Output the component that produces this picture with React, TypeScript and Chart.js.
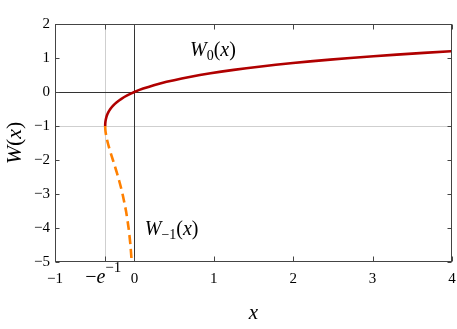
import React, { useEffect, useRef } from 'react';
import { Chart, registerables } from 'chart.js';

Chart.register(...registerables);

// Principal branch W0(x): sampled (x, W) pairs
const W0_X = [-0.36788, -0.36771, -0.36719, -0.36591, -0.3633, -0.35946, -0.34761, -0.32929, -0.30327, -0.26813, -0.22225, -0.16375, -0.09048, 0, 0.11052, 0.24428, 0.40496, 0.59673, 0.82436, 1.09327, 1.40963, 1.78043, 2.21364, 2.71828, 3.30458, 3.98414, 4.0];
const W0_Y = [-1, -0.97, -0.94, -0.9, -0.85, -0.8, -0.7, -0.6, -0.5, -0.4, -0.3, -0.2, -0.1, 0, 0.1, 0.2, 0.3, 0.4, 0.5, 0.6, 0.7, 0.8, 0.9, 1.0, 1.1, 1.2, 1.2022];

// Lower branch W-1(x)
const WM1_X = [-0.36788, -0.36772, -0.36725, -0.36616, -0.36413, -0.36143, -0.35429, -0.34524, -0.3347, -0.32304, -0.29754, -0.27067, -0.23715, -0.20521, -0.17581, -0.14936, -0.10569, -0.07326, -0.04999, -0.03369];
const WM1_Y = [-1, -1.03, -1.06, -1.1, -1.15, -1.2, -1.3, -1.4, -1.5, -1.6, -1.8, -2.0, -2.25, -2.5, -2.75, -3.0, -3.5, -4.0, -4.5, -5.0];

const X_TICKS = [-1, -0.36788, 0, 1, 2, 3, 4];
const Y_TICKS = [-5, -4, -3, -2, -1, 0, 1, 2];
const REF_X = -0.36788;
const REF_Y = -1;

const SERIF = '"Liberation Serif", "DejaVu Serif", serif';

type Run = { text: string; font: string; dy?: number };

function drawRuns(ctx: CanvasRenderingContext2D, runs: Run[], x: number, y: number, align: 'left' | 'center') {
  let total = 0;
  for (const r of runs) {
    ctx.font = r.font;
    total += ctx.measureText(r.text).width;
  }
  let cx = align === 'center' ? x - total / 2 : x;
  ctx.textAlign = 'left';
  ctx.textBaseline = 'alphabetic';
  for (const r of runs) {
    ctx.font = r.font;
    ctx.fillText(r.text, cx, y + (r.dy || 0));
    cx += ctx.measureText(r.text).width;
  }
}

const fmt = (v: number) => (v < 0 ? '\u2212' + Math.abs(v) : String(v));

const decor = {
  id: 'decor',
  beforeDatasetsDraw(chart: any) {
    const { ctx, chartArea: a, scales } = chart;
    const xs = scales.x;
    const ys = scales.y;
    ctx.save();
    ctx.lineWidth = 1;
    ctx.strokeStyle = '#cfcfcf';
    const rx = Math.round(xs.getPixelForValue(REF_X)) + 0.5;
    const ry = Math.round(ys.getPixelForValue(REF_Y)) + 0.5;
    ctx.beginPath();
    ctx.moveTo(rx, a.top);
    ctx.lineTo(rx, a.bottom);
    ctx.moveTo(a.left, ry);
    ctx.lineTo(a.right, ry);
    ctx.stroke();
    ctx.strokeStyle = '#333333';
    const zx = Math.round(xs.getPixelForValue(0)) + 0.5;
    const zy = Math.round(ys.getPixelForValue(0)) + 0.5;
    ctx.beginPath();
    ctx.moveTo(zx, a.top);
    ctx.lineTo(zx, a.bottom);
    ctx.moveTo(a.left, zy);
    ctx.lineTo(a.right, zy);
    ctx.stroke();
    ctx.restore();
  },
  afterDatasetsDraw(chart: any) {
    const { ctx, chartArea: a, scales } = chart;
    const xs = scales.x;
    const ys = scales.y;
    ctx.save();
    // box
    ctx.strokeStyle = '#444444';
    ctx.lineWidth = 1;
    const L = Math.round(a.left) + 0.5;
    const R = Math.round(a.right) - 0.5;
    const T = Math.round(a.top) + 0.5;
    const B = Math.round(a.bottom) - 0.5;
    ctx.strokeRect(L, T, R - L, B - T);
    // inward ticks
    ctx.beginPath();
    for (const v of X_TICKS) {
      const p = Math.round(xs.getPixelForValue(v)) + 0.5;
      ctx.moveTo(p, B);
      ctx.lineTo(p, B - 5);
      ctx.moveTo(p, T);
      ctx.lineTo(p, T + 5);
    }
    for (const v of Y_TICKS) {
      const p = Math.round(ys.getPixelForValue(v)) + 0.5;
      ctx.moveTo(L, p);
      ctx.lineTo(L + 4, p);
      ctx.moveTo(R, p);
      ctx.lineTo(R - 4, p);
    }
    ctx.stroke();

    ctx.fillStyle = '#000000';
    // special tick label -e^{-1}
    const ex = xs.getPixelForValue(REF_X);
    drawRuns(ctx, [
      { text: '\u2212', font: `20px ${SERIF}` },
      { text: 'e', font: `italic 20px ${SERIF}` },
      { text: '\u22121', font: `15px ${SERIF}`, dy: -11 },
    ], ex - 2, 283, 'center');

    // annotations
    drawRuns(ctx, [
      { text: 'W', font: `italic 20px ${SERIF}` },
      { text: '0', font: `14px ${SERIF}`, dy: 4 },
      { text: '(', font: `20px ${SERIF}` },
      { text: 'x', font: `italic 20px ${SERIF}` },
      { text: ')', font: `20px ${SERIF}` },
    ], xs.getPixelForValue(0.7), ys.getPixelForValue(1.06), 'left');

    drawRuns(ctx, [
      { text: 'W', font: `italic 20px ${SERIF}` },
      { text: '\u22121', font: `14px ${SERIF}`, dy: 4 },
      { text: '(', font: `20px ${SERIF}` },
      { text: 'x', font: `italic 20px ${SERIF}` },
      { text: ')', font: `20px ${SERIF}` },
    ], xs.getPixelForValue(0.13), ys.getPixelForValue(-4.2), 'left');

    // axis titles
    drawRuns(ctx, [{ text: 'x', font: `italic 21px ${SERIF}` }], (a.left + a.right) / 2, 319, 'center');

    ctx.save();
    ctx.translate(21, (a.top + a.bottom) / 2);
    ctx.rotate(-Math.PI / 2);
    drawRuns(ctx, [
      { text: 'W', font: `italic 22px ${SERIF}` },
      { text: '(', font: `22px ${SERIF}` },
      { text: 'x', font: `italic 22px ${SERIF}` },
      { text: ')', font: `22px ${SERIF}` },
    ], 0, 0, 'center');
    ctx.restore();

    ctx.restore();
  },
};

export default function App() {
  const ref = useRef<HTMLCanvasElement | null>(null);
  useEffect(() => {
    if (!ref.current) return;
    const chart = new Chart(ref.current, {
      type: 'line',
      data: {
        datasets: [
          {
            label: 'W0',
            data: W0_X.map((x, i) => ({ x, y: W0_Y[i] })),
            borderColor: '#b00000',
            borderWidth: 2.6,
            pointRadius: 0,
            tension: 0.2,
            fill: false,
          },
          {
            label: 'W-1',
            data: WM1_X.map((x, i) => ({ x, y: WM1_Y[i] })),
            borderColor: '#ff8000',
            borderWidth: 2.6,
            borderDash: [9, 5],
            pointRadius: 0,
            tension: 0.2,
            fill: false,
          },
        ],
      },
      options: {
        responsive: false,
        animation: false,
        devicePixelRatio: 1,
        layout: { padding: { left: 0, top: 24, right: 5, bottom: 0 } },
        plugins: { legend: { display: false }, tooltip: { enabled: false } },
        scales: {
          x: {
            type: 'linear',
            min: -1,
            max: 4,
            afterBuildTicks: (s: any) => {
              s.ticks = X_TICKS.map((v) => ({ value: v }));
            },
            afterFit: (s: any) => {
              s.height = 67;
              s.paddingLeft = 0;
              s.paddingRight = 0;
            },
            grid: { display: false, drawTicks: false },
            border: { display: false },
            ticks: {
              autoSkip: false,
              maxRotation: 0,
              padding: 8,
              color: '#000',
              font: { family: SERIF, size: 15 },
              callback: (v: any) => (Math.abs(Number(v) - REF_X) < 1e-3 ? '' : fmt(Number(v))),
            },
          },
          y: {
            type: 'linear',
            min: -5,
            max: 2,
            afterBuildTicks: (s: any) => {
              s.ticks = Y_TICKS.map((v) => ({ value: v }));
            },
            afterFit: (s: any) => {
              s.width = 55;
              s.paddingTop = 0;
              s.paddingBottom = 0;
            },
            grid: { display: false, drawTicks: false },
            border: { display: false },
            ticks: {
              autoSkip: false,
              padding: 5,
              color: '#000',
              font: { family: SERIF, size: 15 },
              callback: (v: any) => fmt(Number(v)),
            },
          },
        },
      },
      plugins: [decor],
    } as any);
    return () => chart.destroy();
  }, []);
  return (
    <div style={{ position: 'absolute', left: 0, top: 0, width: 457, height: 329 }}>
      <canvas ref={ref} width={457} height={329} />
    </div>
  );
}
